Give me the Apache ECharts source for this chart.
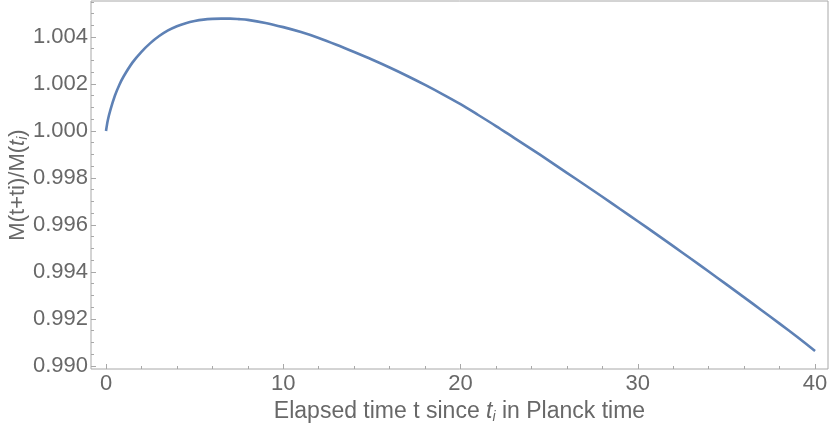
<!DOCTYPE html>
<html>
<head>
<meta charset="utf-8">
<script src="https://cdn.jsdelivr.net/npm/echarts@6/dist/echarts.min.js"></script>
<style>html,body{margin:0;padding:0;background:#fff;}#c{width:830px;height:430px;}</style>
</head>
<body>
<div id="c"></div>
<script>
// Elapsed time t (Planck time)
const tValues = [0, 0.1, 0.25, 0.5, 0.75, 1, 1.5, 2, 2.5, 3, 3.5, 4, 4.5, 5, 5.5, 6, 6.5, 7, 7.5, 8, 9,
  10, 11, 12, 13, 14, 15, 16, 17, 18, 19, 20, 21, 22, 23, 24, 25, 26, 27, 28, 29, 30,
  31, 32, 33, 34, 35, 36, 37, 38, 39, 40];
// M(t+ti)/M(ti)
const mValues = [1.00000, 1.00045, 1.00090, 1.00150, 1.00196, 1.00233, 1.00292, 1.00337, 1.00374, 1.00404,
  1.00428, 1.00446, 1.00459, 1.00468, 1.00474, 1.00477, 1.00478, 1.00478, 1.00476, 1.00473, 1.00460,
  1.00442, 1.00421, 1.00396, 1.00367, 1.00336, 1.00304, 1.00270, 1.00234, 1.00196, 1.00156, 1.00114,
  1.00068, 1.00021, 0.99972, 0.99923, 0.99873, 0.99822, 0.99771, 0.99720, 0.99668, 0.99616,
  0.99563, 0.99510, 0.99456, 0.99402, 0.99347, 0.99292, 0.99236, 0.99180, 0.99123, 0.99064];
const xMajorTicks = [0, 10, 20, 30, 40];
const xMinorTicks = [2, 4, 6, 8, 12, 14, 16, 18, 22, 24, 26, 28, 32, 34, 36, 38];
const yMajorTicks = [0.990, 0.992, 0.994, 0.996, 0.998, 1.000, 1.002, 1.004];
const yMinorTicks = [0.9905, 0.991, 0.9915, 0.9925, 0.993, 0.9935, 0.9945, 0.995, 0.9955,
  0.9965, 0.997, 0.9975, 0.9985, 0.999, 0.9995, 1.0005, 1.001, 1.0015, 1.0025, 1.003, 1.0035,
  1.0045, 1.005, 1.0055];
const xLabelText = ['0', '10', '20', '30', '40'];

const X_MIN = -0.846, X_MAX = 40.73;
const Y_MIN = 0.98987, Y_MAX = 1.005532;
const frameColor = '#a8a8a8';
const labelColor = '#686868';
const fontFam = '"Liberation Sans", Arial, sans-serif';
const FS = 22;

const chart = echarts.init(document.getElementById('c'), null, {renderer: 'canvas'});
const baseAxis = {
  splitLine: {show: false},
  axisLine: {show: false, onZero: false}
};
const richX = {
  a: {fontSize: 23, color: labelColor, fontFamily: fontFam},
  it: {fontSize: 23, color: labelColor, fontFamily: fontFam, fontStyle: 'italic'},
  sub: {fontSize: 14, color: labelColor, fontFamily: fontFam, fontStyle: 'italic', padding: [10, 0, 0, 0]}
};
const richY = {
  a: {fontSize: FS, color: labelColor, fontFamily: fontFam},
  it: {fontSize: FS, color: labelColor, fontFamily: fontFam, fontStyle: 'italic'},
  sub: {fontSize: 14, color: labelColor, fontFamily: fontFam, fontStyle: 'italic', padding: [10, 0, 0, 0]}
};
chart.setOption({
  animation: false,
  backgroundColor: '#ffffff',
  grid: {left: 91, right: 2, top: 1, bottom: 61, show: true, borderColor: frameColor, borderWidth: 1,
    backgroundColor: 'transparent', containLabel: false, outerBoundsMode: 'none'},
  xAxis: [
    Object.assign({}, baseAxis, {
      type: 'value', min: X_MIN, max: X_MAX, position: 'bottom',
      axisTick: {show: true, inside: true, length: 5, customValues: xMajorTicks, lineStyle: {color: frameColor}},
      axisLabel: {show: true, customValues: xMajorTicks, margin: 4, color: labelColor, fontSize: FS, fontFamily: fontFam,
        formatter: v => { const k = xMajorTicks.indexOf(v); return k >= 0 ? xLabelText[k] : String(v); }},
      name: '{a|Elapsed time t since }{it|t}{sub|i}{a| in Planck time}',
      nameLocation: 'middle', nameGap: 31, nameMoveOverlap: false,
      nameTextStyle: {rich: richX}
    }),
    Object.assign({}, baseAxis, {
      type: 'value', min: X_MIN, max: X_MAX, position: 'bottom',
      axisTick: {show: true, inside: true, length: 3, customValues: xMinorTicks, lineStyle: {color: frameColor}},
      axisLabel: {show: false, customValues: xMinorTicks}
    })
  ],
  yAxis: [
    Object.assign({}, baseAxis, {
      type: 'value', min: Y_MIN, max: Y_MAX, position: 'left',
      axisTick: {show: true, inside: true, length: 5, customValues: yMajorTicks, lineStyle: {color: frameColor}},
      axisLabel: {show: true, customValues: yMajorTicks, margin: 3, color: labelColor, fontSize: FS, fontFamily: fontFam,
        formatter: v => v.toFixed(3)},
      name: '{a|M(t+ti)/M(}{it|t}{sub|i}{a|)}',
      nameLocation: 'middle', nameRotate: 90, nameGap: 61, nameMoveOverlap: false,
      nameTextStyle: {rich: richY}
    }),
    Object.assign({}, baseAxis, {
      type: 'value', min: Y_MIN, max: Y_MAX, position: 'left',
      axisTick: {show: true, inside: true, length: 3, customValues: yMinorTicks, lineStyle: {color: frameColor}},
      axisLabel: {show: false, customValues: yMinorTicks}
    })
  ],
  series: [{
    type: 'line',
    xAxisIndex: 0, yAxisIndex: 0,
    data: tValues.map((t, i) => [t, mValues[i]]),
    smooth: 0.3,
    showSymbol: false,
    lineStyle: {color: '#5E81B5', width: 2.6},
    clip: true
  }]
});
</script>
</body>
</html>
